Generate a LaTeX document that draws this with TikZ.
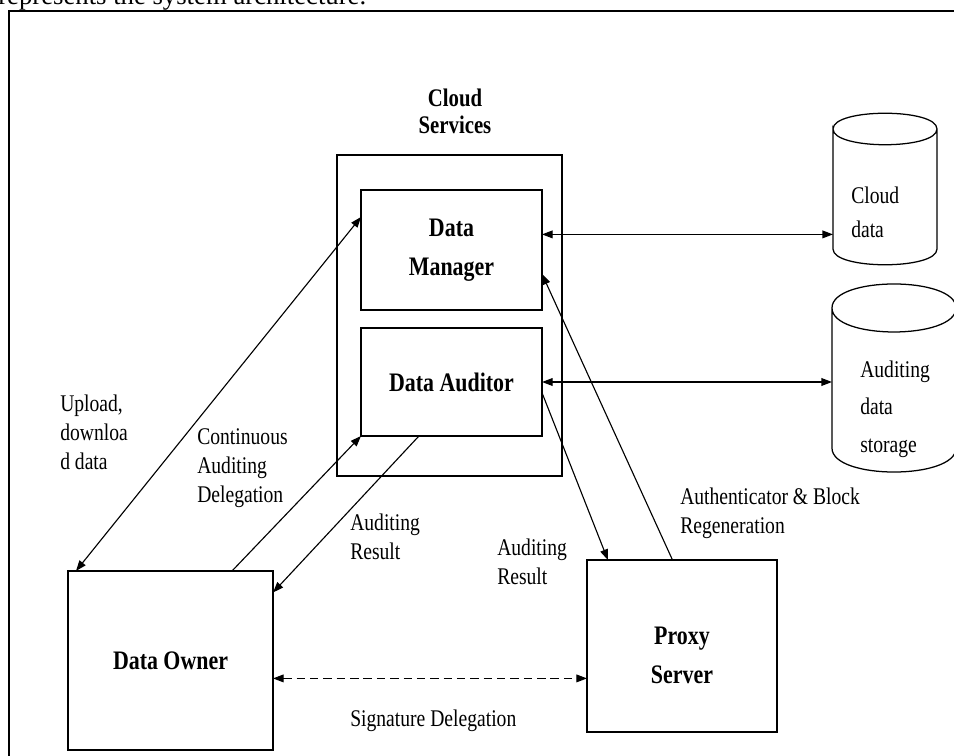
\documentclass[tikz,border=0pt]{standalone}
\usepackage{fontspec}
\setmainfont{Liberation Serif}[FakeStretch=0.82]
\newfontfamily\bodyfont{Liberation Serif}
\usetikzlibrary{arrows.meta, positioning, calc}

\tikzset{
  blockbox/.style={rectangle, draw, line width=0.9pt, inner sep=0pt, outer sep=0pt,
                   align=center, font=\fontsize{19}{28}\selectfont\bfseries},
  dbbody/.style={rectangle, inner sep=0pt, outer sep=0pt},
  flowline/.style={line width=0.8pt, -{Triangle[length=7.5pt,width=5.5pt]}},
  flowboth/.style={line width=0.8pt, {Triangle[length=7.5pt,width=5.5pt]}-{Triangle[length=7.5pt,width=5.5pt]}},
  lbl/.style={anchor=base west, inner sep=0pt, align=left, font=\fontsize{17}{20.5}\selectfont},
}

% database drum round a body node: name, rim half-height, control offset
\newcommand{\dbshape}[3]{%
  \draw[line width=0.9pt] ($(#1.north west)+(0,#2)$) .. controls +(0,-#3) and +(0,-#3) .. ($(#1.north east)+(0,#2)$)
        .. controls +(0,#3) and +(0,#3) .. ($(#1.north west)+(0,#2)$)
        -- ($(#1.south west)+(0,-#2)$) .. controls +(0,#3) and +(0,#3) .. ($(#1.south east)+(0,-#2)$)
        -- ($(#1.north east)+(0,#2)$);}

\begin{document}
\begin{tikzpicture}[x=0.025cm, y=-0.025cm]
    \useasboundingbox (0,0) rectangle (954,756);

    % Page text and frame
    \node[anchor=base west, inner sep=0pt, font=\bodyfont\fontsize{19}{23}\selectfont] (doctext) at (-2,4)
        {represents the system architecture.};
    \draw[line width=1.5pt] (9,780) -- (9,11) -- (980,11);

    % Cloud services (multi-line nodes sit on their last baseline)
    \node[anchor=base, inner sep=0pt, align=center, font=\fontsize{18}{19}\selectfont\bfseries] (cloudlbl)
        at (455,133) {Cloud\\Services};
    \node[rectangle, draw, line width=0.9pt, inner sep=0pt, outer sep=0pt,
          minimum width=5.625cm, minimum height=8.025cm] (cloud) at (449.5,315.5) {};
    \node[blockbox, minimum width=4.525cm, minimum height=3cm] (manager) at (451.5,250) {Data\\Manager};
    \node[blockbox, minimum width=4.525cm, minimum height=2.7cm] (auditor) at (451.5,382) {Data Auditor};

    % Storage
    \node[dbbody, minimum width=2.6cm, minimum height=3.8cm] (clouddata) at (885,189) {};
    \dbshape{clouddata}{16}{21}
    \node[lbl, font=\fontsize{17}{24}\selectfont] (clouddatalbl) at (851,237) {Cloud\\data};
    \node[dbbody, minimum width=3.1cm, minimum height=4.7cm] (auditstore) at (894,378) {};
    \dbshape{auditstore}{24}{32}
    \node[lbl, font=\fontsize{17}{26.5}\selectfont] (auditstorelbl) at (860,452) {Auditing\\data\\storage};

    % Owner and proxy
    \node[blockbox, minimum width=5.125cm, minimum height=4.475cm] (owner) at (170.5,660.5) {Data Owner};
    \node[blockbox, minimum width=4.75cm, minimum height=4.3cm, text height=54pt] (proxy) at (682,646) {Proxy\\Server};

    % Arrows
    \draw[flowboth] ($(manager.north west)!0.225!(manager.south west)$) -- ($(owner.north west)+(8,0)$);
    \draw[flowline] ($(owner.north west)!0.8!(owner.north east)$) -- (auditor.south west);
    \draw[flowline] ($(auditor.south west)!0.32!(auditor.south east)$) -- ($(owner.north east)!0.12!(owner.south east)$);
    \draw[flowboth] ($(manager.north east)!0.37!(manager.south east)$) coordinate (mgrout) -- (mgrout -| clouddata.west);
    \draw[flowboth] (auditor.east) -- (auditor.east -| auditstore.west);
    \draw[flowline] ($(auditor.north east)!0.6!(auditor.south east)$) -- ($(proxy.north west)!0.11!(proxy.north east)$);
    \draw[flowline] ($(proxy.north west)!0.45!(proxy.north east)$) -- ($(manager.north east)!0.7!(manager.south east)$);
    \draw[flowboth, dash pattern=on 6pt off 3.5pt] ($(owner.north east)!0.6!(owner.south east)$) coordinate (ownout)
        -- (ownout -| proxy.west);

    % Labels
    \node[lbl] (uploadlbl) at (60,469) {Upload,\\downloa\\d data};
    \node[lbl] (delegationlbl) at (197,502) {Continuous\\Auditing\\Delegation};
    \node[lbl] (resultlbl) at (350,559) {Auditing\\Result};
    \node[lbl] (proxyresultlbl) at (497,584) {Auditing\\Result};
    \node[lbl] (regenlbl) at (680,533) {Authenticator \& Block\\Regeneration};
    \node[lbl] (signaturelbl) at (350,726) {Signature Delegation};
\end{tikzpicture}
\end{document}
